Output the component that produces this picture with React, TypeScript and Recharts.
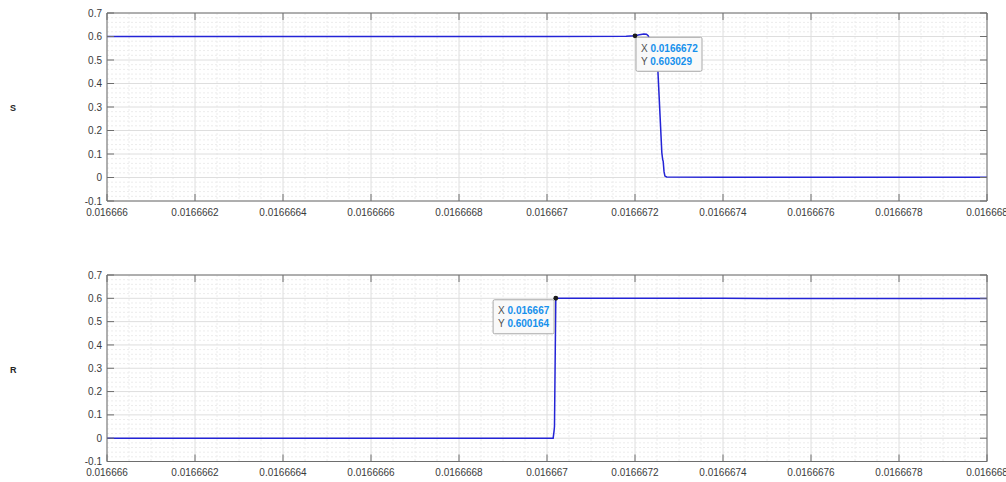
import React from 'react';
import { LineChart, Line, XAxis, YAxis, CartesianGrid, ReferenceDot } from 'recharts';

// ---------- axis ticks ----------
const xTicks = [0.016666, 0.0166662, 0.0166664, 0.0166666, 0.0166668, 0.016667, 0.0166672, 0.0166674, 0.0166676, 0.0166678, 0.016668];
const xTickLabels = ['0.016666', '0.0166662', '0.0166664', '0.0166666', '0.0166668', '0.016667', '0.0166672', '0.0166674', '0.0166676', '0.0166678', '0.016668'];
const yTicks = [-0.1, 0, 0.1, 0.2, 0.3, 0.4, 0.5, 0.6, 0.7];
const yTickLabels = ['-0.1', '0', '0.1', '0.2', '0.3', '0.4', '0.5', '0.6', '0.7'];

// ---------- series S ----------
const sTime = [0.016666, 0.016667, 0.01666718, 0.0166672, 0.01666721, 0.01666722, 0.016667226, 0.01666723, 0.016667242, 0.016667252, 0.016667257, 0.016667261, 0.016667263, 0.016667264, 0.016667266, 0.016667268, 0.016667272, 0.0166674, 0.016668];
const sValue = [0.6, 0.6, 0.601, 0.603029, 0.607, 0.611, 0.61, 0.603, 0.54, 0.456, 0.26, 0.105, 0.075, 0.07, 0.025, 0.006, 0.002, 0.001, 0.001];

// ---------- series R ----------
const rTime = [0.016666, 0.0166668, 0.016667014, 0.016667016, 0.016667017, 0.01666702, 0.0166672, 0.0166674, 0.0166675, 0.016668];
const rValue = [0, 0, 0, 0.03, 0.05, 0.600164, 0.6, 0.6, 0.5995, 0.5995];

// ---------- data tips ----------
const sTipX = 0.0166672;
const sTipY = 0.603029;
const sTipLabels = ['0.0166672', '0.603029'];
const rTipX = 0.01666702;
const rTipY = 0.600164;
const rTipLabels = ['0.016667', '0.600164'];

const sData = sTime.map((t, i) => ({ t, v: sValue[i] }));
const rData = rTime.map((t, i) => ({ t, v: rValue[i] }));

const minorBetween = (ticks: number[], n: number) => {
  const out: number[] = [];
  for (let i = 0; i < ticks.length - 1; i++) {
    const a = ticks[i];
    const b = ticks[i + 1];
    for (let k = 1; k < n; k++) out.push(a + ((b - a) * k) / n);
  }
  return out;
};
const xMinor = minorBetween(xTicks, 4);
const yMinor = minorBetween(yTicks, 5);

const AXIS = '#6e6e6e';
const TEXT = '#3a3a3a';
const LINE = '#2424d6';
const TICK_LEN = 7;
const FONT = "'Liberation Sans', Arial, Helvetica, sans-serif";

const labelFor = (ticks: number[], labels: string[], v: number) => {
  let best = 0;
  for (let i = 1; i < ticks.length; i++) {
    if (Math.abs(ticks[i] - v) < Math.abs(ticks[best] - v)) best = i;
  }
  return labels[best];
};

const BottomTick = (props: any) => {
  const { x, y, payload } = props;
  return (
    <g>
      <line x1={x} y1={y} x2={x} y2={y - TICK_LEN} stroke={AXIS} strokeWidth={1} />
      <text x={x} y={y + 14.5} textAnchor="middle" fontSize={10} fill={TEXT} fontFamily={FONT}>
        {labelFor(xTicks, xTickLabels, payload.value)}
      </text>
    </g>
  );
};

const TopTick = (props: any) => {
  const { x, y } = props;
  return <line x1={x} y1={y} x2={x} y2={y + TICK_LEN} stroke={AXIS} strokeWidth={1} />;
};

const LeftTick = (props: any) => {
  const { x, y, payload } = props;
  return (
    <g>
      <line x1={x} y1={y} x2={x + TICK_LEN} y2={y} stroke={AXIS} strokeWidth={1} />
      <text x={x - 5} y={y + 3.6} textAnchor="end" fontSize={10} fill={TEXT} fontFamily={FONT}>
        {labelFor(yTicks, yTickLabels, payload.value)}
      </text>
    </g>
  );
};

const RightTick = (props: any) => {
  const { x, y } = props;
  return <line x1={x} y1={y} x2={x - TICK_LEN} y2={y} stroke={AXIS} strokeWidth={1} />;
};

const TipShape = (props: any) => {
  const { cx, cy, side, labels } = props;
  if (cx == null || cy == null) return <g />;
  const w = side === 'right' ? 66 : 61;
  const h = 34;
  const bx = side === 'right' ? cx + 1 : cx - 1.7 - w;
  const by = cy + 1.5;
  return (
    <g>
      <rect x={bx} y={by} width={w} height={h} rx={1.5} fill="#f9f9f9" stroke="#a8a8a8" strokeWidth={1} />
      <text x={bx + 5} y={by + 14.5} fontSize={10} fontFamily={FONT}>
        <tspan fill="#505050">X </tspan>
        <tspan fill="#1590ec" fontWeight="bold">{labels[0]}</tspan>
      </text>
      <text x={bx + 5} y={by + 27.5} fontSize={10} fontFamily={FONT}>
        <tspan fill="#505050">Y </tspan>
        <tspan fill="#1590ec" fontWeight="bold">{labels[1]}</tspan>
      </text>
      <circle cx={cx} cy={cy} r={2.4} fill="#1a1a1a" />
    </g>
  );
};

type PanelProps = {
  data: { t: number; v: number }[];
  tipX: number;
  tipY: number;
  tipLabels: string[];
  side: 'left' | 'right';
  margin: { top: number; right: number; bottom: number; left: number };
};

const Panel = ({ data, tipX, tipY, tipLabels, side, margin }: PanelProps) => (
  <LineChart width={1006} height={241} data={data} margin={margin}>
    <CartesianGrid
      verticalValues={xMinor}
      horizontalValues={yMinor}
      stroke="#ececec"
      strokeDasharray="2 2"
    />
    <CartesianGrid verticalValues={xTicks} horizontalValues={yTicks} stroke="#dedede" />
    <XAxis
      dataKey="t"
      type="number"
      domain={[xTicks[0], xTicks[xTicks.length - 1]]}
      ticks={xTicks}
      interval={0}
      allowDataOverflow
      height={1}
      tickSize={0}
      tickMargin={0}
      tickLine={false}
      axisLine={{ stroke: AXIS }}
      tick={<BottomTick />}
    />
    <XAxis
      xAxisId="top"
      orientation="top"
      dataKey="t"
      type="number"
      domain={[xTicks[0], xTicks[xTicks.length - 1]]}
      ticks={xTicks}
      interval={0}
      allowDataOverflow
      height={1}
      tickSize={0}
      tickMargin={0}
      tickLine={false}
      axisLine={{ stroke: AXIS }}
      tick={<TopTick />}
    />
    <YAxis
      type="number"
      domain={[yTicks[0], yTicks[yTicks.length - 1]]}
      ticks={yTicks}
      interval={0}
      allowDataOverflow
      width={1}
      tickSize={0}
      tickMargin={0}
      tickLine={false}
      axisLine={{ stroke: AXIS }}
      tick={<LeftTick />}
    />
    <YAxis
      yAxisId="right"
      orientation="right"
      type="number"
      domain={[yTicks[0], yTicks[yTicks.length - 1]]}
      ticks={yTicks}
      interval={0}
      allowDataOverflow
      width={1}
      tickSize={0}
      tickMargin={0}
      tickLine={false}
      axisLine={{ stroke: AXIS }}
      tick={<RightTick />}
    />
    <Line
      type="linear"
      dataKey="v"
      stroke={LINE}
      strokeWidth={1.5}
      dot={false}
      activeDot={false}
      isAnimationActive={false}
    />
    <ReferenceDot
      x={tipX}
      y={tipY}
      r={2.4}
      ifOverflow="visible"
      shape={(p: any) => <TipShape {...p} side={side} labels={tipLabels} />}
    />
  </LineChart>
);

const sideLabel: React.CSSProperties = {
  position: 'absolute',
  fontFamily: FONT,
  fontWeight: 'bold',
  fontSize: 9,
  color: '#262626',
  lineHeight: '10px',
};

export default function App() {
  return (
    <div
      style={{
        position: 'absolute',
        left: 0,
        top: 0,
        width: 1006,
        height: 482,
        background: '#ffffff',
        overflow: 'hidden',
      }}
    >
      <div style={{ position: 'absolute', left: 0, top: 0 }}>
        <Panel
          data={sData}
          tipX={sTipX}
          tipY={sTipY}
          tipLabels={sTipLabels}
          side="right"
          margin={{ top: 12, right: 18, bottom: 39, left: 106 }}
        />
      </div>
      <div style={{ position: 'absolute', left: 0, top: 241 }}>
        <Panel
          data={rData}
          tipX={rTipX}
          tipY={rTipY}
          tipLabels={rTipLabels}
          side="left"
          margin={{ top: 33, right: 18, bottom: 19.5, left: 106 }}
        />
      </div>
      <div style={{ ...sideLabel, left: 10, top: 103 }}>S</div>
      <div style={{ ...sideLabel, left: 10, top: 365 }}>R</div>
    </div>
  );
}
